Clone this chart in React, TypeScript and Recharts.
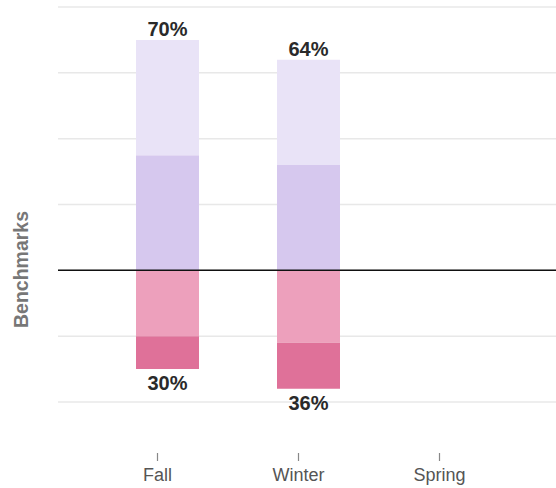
import { BarChart, Bar, XAxis, YAxis, CartesianGrid, ReferenceLine, LabelList, Label } from "recharts";

const categories = ["Fall", "Winter", "Spring"];
const metLow = [35, 32, null];
const metHigh = [35, 32, null];
const belowNear = [-20, -22, null];
const belowFar = [-10, -14, null];
const yTicks = [-40, -20, 0, 20, 40, 60, 80];
const Y_MIN = -40;
const Y_MAX = 80;

const FONT = '"Liberation Sans", Arial, sans-serif';

const data = categories.map((name, i) => ({
  name,
  metLow: metLow[i],
  metHigh: metHigh[i],
  belowNear: belowNear[i],
  belowFar: belowFar[i],
}));

const topTotal = (i: number) => (metLow[i] ?? 0) + (metHigh[i] ?? 0);
const bottomTotal = (i: number) => -((belowNear[i] ?? 0) + (belowFar[i] ?? 0));

const TopLabel = (props: any) => {
  const { x, y, width, height, index } = props;
  if (metHigh[index] == null) return null;
  const edge = Math.min(y, y + height);
  return (
    <text x={x + width / 2} y={edge - 4} textAnchor="middle" fontFamily={FONT} fontWeight="bold" fontSize={20} fill="#2a2a2a">
      {topTotal(index)}%
    </text>
  );
};

const BottomLabel = (props: any) => {
  const { x, y, width, height, index } = props;
  if (belowFar[index] == null) return null;
  const edge = Math.max(y, y + height);
  return (
    <text x={x + width / 2} y={edge + 21} textAnchor="middle" fontFamily={FONT} fontWeight="bold" fontSize={20} fill="#2a2a2a">
      {bottomTotal(index)}%
    </text>
  );
};

const SeasonTick = ({ x, y, payload }: any) => (
  <g transform={`translate(${x - 10},${y})`}>
    <line x1={0} x2={0} y1={51} y2={59} stroke="#888" strokeWidth={1.2} />
    <text x={0} y={79} textAnchor="middle" fontFamily={FONT} fontSize={18} fill="#555">
      {payload.value}
    </text>
  </g>
);

const AxisTitle = ({ viewBox }: any) => {
  const cx = 20.5;
  const cy = viewBox.y + viewBox.height / 2 + 65;
  return (
    <text
      x={cx}
      y={cy}
      transform={`rotate(-90, ${cx}, ${cy})`}
      textAnchor="middle"
      dominantBaseline="central"
      fontFamily={FONT}
      fontWeight="bold"
      fontSize={19.5}
      fill="#777"
    >
      Benchmarks
    </text>
  );
};

// grid rows at the benchmark ticks, spread over the plot area
const gridRows = ({ offset }: any) =>
  yTicks.map((t) => offset.top + (offset.height * (Y_MAX - t)) / (Y_MAX - Y_MIN));

export default function App() {
  return (
    <div style={{ position: "absolute", left: 0, top: 0 }}>
      <BarChart
        width={556}
        height={488}
        data={data}
        stackOffset="sign"
        margin={{ top: 7, right: 0, bottom: 0, left: 0 }}
      >
        <CartesianGrid
          vertical={false}
          horizontalCoordinatesGenerator={gridRows}
          stroke="#e8e8e8"
          strokeWidth={1.5}
        />
        <XAxis
          dataKey="name"
          height={86}
          axisLine={false}
          tickLine={false}
          tickSize={0}
          tickMargin={0}
          padding={{ left: 39, right: 36 }}
          tick={<SeasonTick />}
          interval={0}
        />
        <YAxis
          domain={[Y_MIN, Y_MAX]}
          ticks={yTicks}
          width={58}
          tick={false}
          axisLine={false}
          tickLine={false}
        >
          <Label content={<AxisTitle />} />
        </YAxis>
        <Bar dataKey="metLow" stackId="s" fill="#d6c8ee" barSize={63} isAnimationActive={false} />
        <Bar dataKey="metHigh" stackId="s" fill="#e9e3f7" barSize={63} isAnimationActive={false}>
          <LabelList content={<TopLabel />} />
        </Bar>
        <Bar dataKey="belowNear" stackId="s" fill="#eda0bc" barSize={63} isAnimationActive={false} />
        <Bar dataKey="belowFar" stackId="s" fill="#df7199" barSize={63} isAnimationActive={false}>
          <LabelList content={<BottomLabel />} />
        </Bar>
        <ReferenceLine y={0} stroke="#111" strokeWidth={1.5} />
      </BarChart>
    </div>
  );
}
